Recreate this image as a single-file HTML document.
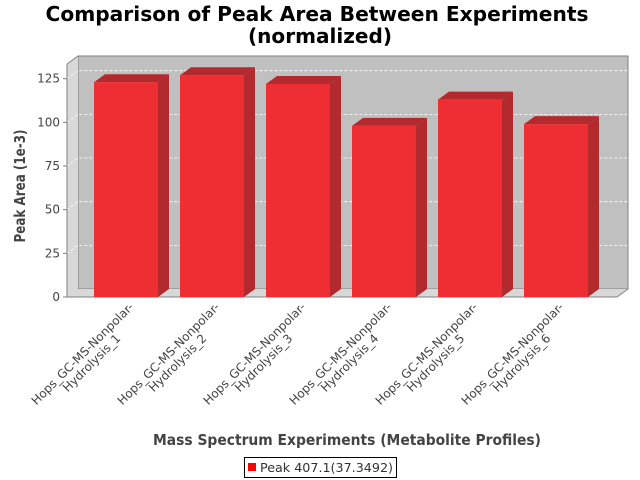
<!DOCTYPE html>
<html><head><meta charset="utf-8"><style>
body{margin:0;background:#fff;}
svg{display:block;font-family:"DejaVu Sans","Liberation Sans",sans-serif;}
</style></head><body>
<svg id="chart" width="640" height="480" viewBox="0 0 640 480">
<text x="317" y="21" text-anchor="middle" font-size="20" font-weight="bold" fill="#000" textLength="543" lengthAdjust="spacingAndGlyphs">Comparison of Peak Area Between Experiments</text>
<text x="320" y="43" text-anchor="middle" font-size="20" font-weight="bold" fill="#000" textLength="144" lengthAdjust="spacingAndGlyphs">(normalized)</text>
<polygon points="78,56 628,56 628,289 78,289" fill="#c0c0c0" stroke="#808080"/>
<polygon points="67,64 78,56 78,289 67,297" fill="#d8d8d8"/>
<polygon points="67,297 78,289 628,289 617,297" fill="#d8d8d8"/>
<g id="grid"></g>
<line x1="67" y1="64" x2="67" y2="297" stroke="#808080"/>
<line x1="67" y1="64" x2="78" y2="56" stroke="#808080"/>
<line x1="67" y1="297" x2="617" y2="297" stroke="#808080"/>
<line x1="617" y1="297" x2="628" y2="289" stroke="#808080"/>
<g id="yticks"></g>
<g id="bars"></g>
<g id="xlabels"></g>
<text transform="translate(25,186) rotate(-90)" text-anchor="middle" font-size="15" font-weight="bold" fill="#444" textLength="113" lengthAdjust="spacingAndGlyphs">Peak Area (1e-3)</text>
<text x="347" y="445" text-anchor="middle" font-size="15" font-weight="bold" fill="#444" textLength="388" lengthAdjust="spacingAndGlyphs">Mass Spectrum Experiments (Metabolite Profiles)</text>
<g>
<rect x="244.5" y="457.5" width="152" height="20" fill="#fff" stroke="#000"/>
<rect x="248" y="463" width="8" height="8" fill="#ff0000"/>
<text x="260" y="472" font-size="12" fill="#333" textLength="133" lengthAdjust="spacingAndGlyphs">Peak 407.1(37.3492)</text>
</g>
</svg>
<script>
const categories = ["Hydrolysis_1","Hydrolysis_2","Hydrolysis_3","Hydrolysis_4","Hydrolysis_5","Hydrolysis_6"];
const values = [123, 127, 122, 98, 113, 99];
const yTicks = [0, 25, 50, 75, 100, 125];
const NS = "http://www.w3.org/2000/svg";
const y0 = 297, scale = 1.7464, dx = 11, dy = 8;
function yScale(v){ return y0 - v*scale; }
function xScale(i){ return 94 + i*86; }
const barW = 64;
function mk(tag, attrs, parent){ const e=document.createElementNS(NS,tag); for(const k in attrs) e.setAttribute(k,attrs[k]); parent.appendChild(e); return e; }
const grid=document.getElementById('grid'), yt=document.getElementById('yticks'), bars=document.getElementById('bars'), xl=document.getElementById('xlabels');
yTicks.forEach(t=>{
  const y=yScale(t);
  if(t>0){
    const g=mk('polyline',{points:`67,${y} 78,${y-dy} 628,${y-dy}`,fill:'none',stroke:'#fff','stroke-width':0.8,'stroke-dasharray':'3,2'},grid);
    
    
  }
  const tk=mk('line',{x1:63,y1:y,x2:67,y2:y,stroke:'#808080'},yt);
  
  
  const tx=mk('text',{x:60,y:y+4,'text-anchor':'end','font-size':12,fill:'#444'},yt);
  tx.textContent=t;
  
  
});
values.forEach((v,i)=>{
  const x=xScale(i), y=yScale(v);
  const g=mk('g',{},bars);
  
  
  mk('polygon',{points:`${x},${y} ${x+dx},${y-dy} ${x+barW+dx},${y-dy} ${x+barW},${y}`,fill:'#b22a2e'},g);
  mk('polygon',{points:`${x+barW},${y} ${x+barW+dx},${y-dy} ${x+barW+dx},${y0-dy} ${x+barW},${y0}`,fill:'#b22a2e'},g);
  mk('rect',{x:x,y:y,width:barW,height:y0-y,fill:'#ee2e32'},g);
  const cx=x+barW/2;
  const lg=mk('g',{transform:`translate(${cx+6},310) rotate(-45)`,'font-size':12,fill:'#444','text-anchor':'middle'},xl);
  
  
  const t1=mk('text',{x:-66,y:0},lg); t1.textContent='Hops_GC-MS-Nonpolar-';
  const t2=mk('text',{x:-66,y:13},lg); t2.textContent=categories[i];
});
</script>
</body></html>
